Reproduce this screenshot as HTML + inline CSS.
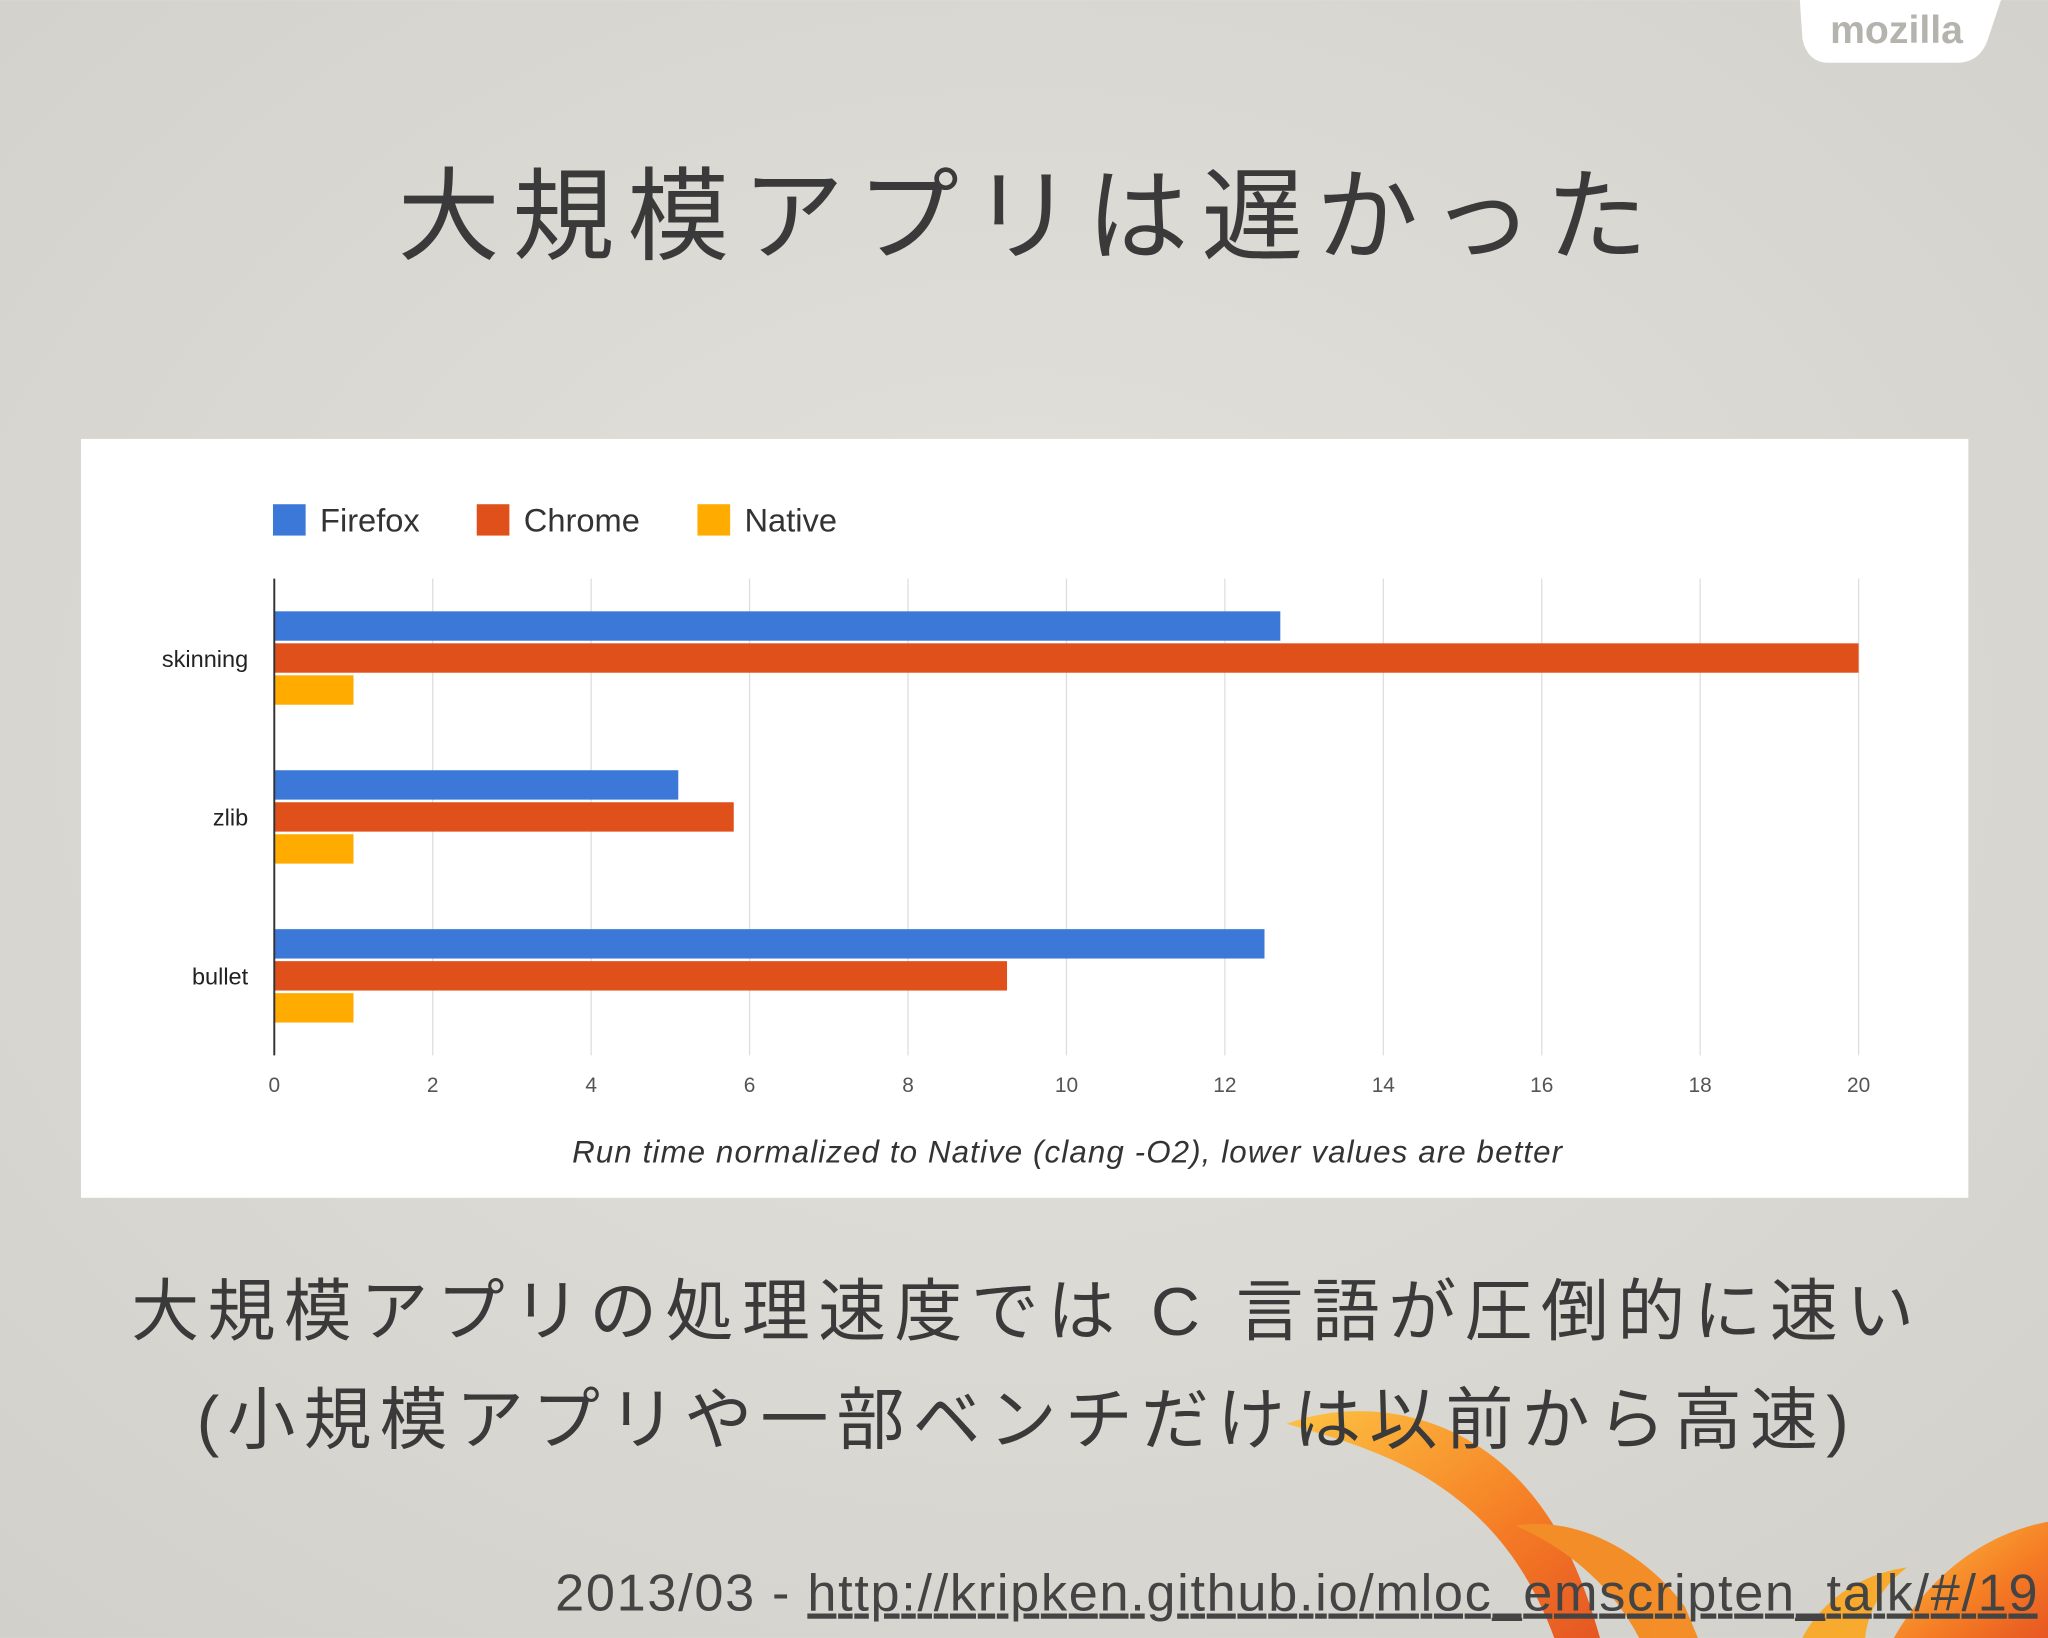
<!DOCTYPE html>
<html><head><meta charset="utf-8"><style>
html,body{margin:0;padding:0;width:2048px;height:1638px;overflow:hidden}
svg{display:block}
</style></head><body>
<svg width="2048" height="1638" viewBox="0 0 1568 1254" xmlns="http://www.w3.org/2000/svg">
<defs>
<radialGradient id="bg" cx="0.5" cy="0.45" r="0.75">
<stop offset="0" stop-color="#e4e2dd"/><stop offset="1" stop-color="#d2d0ca"/>
</radialGradient>
<linearGradient id="fl" x1="0" y1="0" x2="1" y2="1">
<stop offset="0" stop-color="#ffc23a"/><stop offset="0.6" stop-color="#f7791c"/><stop offset="1" stop-color="#e8501a"/>
</linearGradient>
</defs>
<rect width="1568" height="1254" fill="url(#bg)"/>
<g opacity="0.95">
<path d="M985 1090 C1040 1070 1110 1080 1160 1130 C1190 1160 1210 1200 1225 1254 L1190 1254 C1170 1200 1140 1160 1090 1130 C1055 1110 1020 1100 985 1090 Z" fill="url(#fl)"/>
<path d="M1160 1168 C1210 1160 1260 1190 1290 1230 L1300 1254 L1255 1254 C1235 1215 1200 1185 1160 1168 Z" fill="#f58a1f"/>
<path d="M1450 1254 C1475 1210 1515 1175 1568 1165 L1568 1254 Z" fill="url(#fl)"/>
<path d="M1380 1254 C1395 1225 1425 1205 1460 1200 C1440 1215 1430 1235 1428 1254 Z" fill="#f9a825"/>
</g>
<path d="M1378 0 L1532 0 L1522 30 Q1516 48 1498 48 L1400 48 Q1384 48 1380 30 Z" fill="#fff"/>
<text x="1452" y="33" text-anchor="middle" font-family="'Liberation Sans',sans-serif" font-weight="bold" font-size="30" fill="#b5b3ae">mozilla</text>
<text x="783" y="193" text-anchor="middle" font-family="'Liberation Sans','Noto Sans CJK JP',sans-serif" font-size="78" fill="#3a3a3a" textLength="957" lengthAdjust="spacing">大規模アプリは遅かった</text>
<rect x="62" y="336" width="1445" height="581" fill="#fff"/>
<g id="chart" font-family="'Liberation Sans',sans-serif"></g>
<text x="783" y="1022" text-anchor="middle" font-family="'Liberation Sans','Noto Sans CJK JP',sans-serif" font-size="52" fill="#3a3a3a" textLength="1365" lengthAdjust="spacing">大規模アプリの処理速度では C 言語が圧倒的に速い</text>
<text x="783" y="1105" text-anchor="middle" font-family="'Liberation Sans','Noto Sans CJK JP',sans-serif" font-size="52" fill="#3a3a3a" textLength="1265" lengthAdjust="spacing">(小規模アプリや一部ベンチだけは以前から高速)</text>
<text x="425" y="1233" font-family="'Liberation Sans',sans-serif" font-size="40" fill="#444" textLength="1135" lengthAdjust="spacing">2013/03 - <tspan text-decoration="underline">http://kripken.github.io/mloc_emscripten_talk/#/19</tspan></text>
</svg>
<script>
const categories=["skinning","zlib","bullet"];
const firefox=[12.7,5.1,12.5];
const chrome=[20,5.8,9.25];
const native=[1,1,1];
const seriesNames=["Firefox","Chrome","Native"];
const ticks=[0,2,4,6,8,10,12,14,16,18,20];
const NS="http://www.w3.org/2000/svg";
const g=document.getElementById('chart');
const colors=["#3c78d8","#e0501a","#ffab00"];
const x0=210,x1=1423,xmax=20;
const X=v=>x0+(x1-x0)*v/xmax;
const plotTop=443,plotBot=808,band=(plotBot-plotTop)/categories.length;
function mk(t,a,p){const e=document.createElementNS(NS,t);for(const k in a)e.setAttribute(k,a[k]);(p||g).appendChild(e);return e;}
ticks.forEach(t=>{
 if(t>0){const l=mk('line',{x1:X(t),x2:X(t),y1:plotTop,y2:plotBot,stroke:'#dedede','stroke-width':1});
 
 }
 const tx=mk('text',{x:X(t),y:836,'text-anchor':'middle','font-size':16,fill:'#555'});tx.textContent=t;
 
 
});
const series=[firefox,chrome,native];
categories.forEach((c,i)=>{
 const start=plotTop+band*i+25;
 series.forEach((s,j)=>{
  const r=mk('rect',{x:x0,y:start+j*24.5,width:X(s[i])-x0,height:22.5,fill:colors[j]});
  
  
 });
 const t=mk('text',{x:190,y:start+24.5+18,'text-anchor':'end','font-size':18,fill:'#222'});t.textContent=c;
 
 
});
const ax=mk('line',{x1:x0,x2:x0,y1:plotTop,y2:plotBot,stroke:'#333','stroke-width':1.5});


const lx=[209,365,534];
seriesNames.forEach((n,j)=>{
 const r=mk('rect',{x:lx[j],y:386,width:25,height:24,fill:colors[j]});
 
 
 const t=mk('text',{x:lx[j]+36,y:407,'font-size':25,fill:'#333'});t.textContent=n;
 
 
});
const at=mk('text',{x:817,y:890,'text-anchor':'middle','font-size':24,'font-style':'italic',fill:'#333',textLength:758,lengthAdjust:'spacing'});
at.textContent="Run time normalized to Native (clang -O2), lower values are better";


</script>
</body></html>
